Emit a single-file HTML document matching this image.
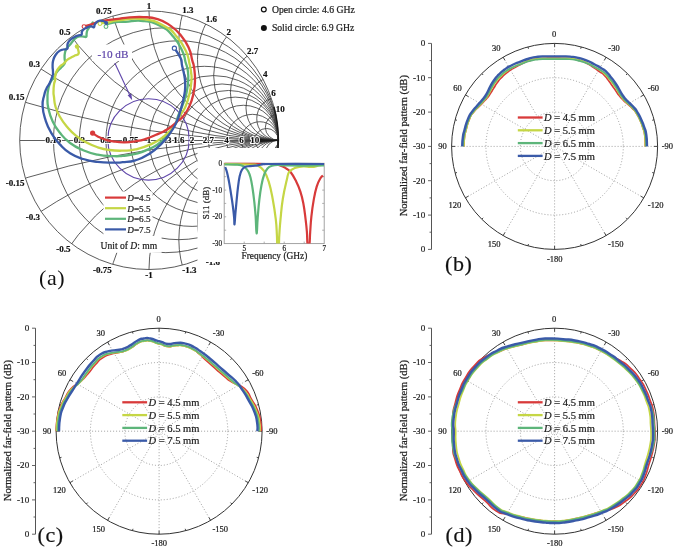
<!DOCTYPE html>
<html><head><meta charset="utf-8"><title>Figure</title>
<style>html,body{margin:0;padding:0;background:#fff;width:675px;height:550px;overflow:hidden}svg{display:block;filter:blur(0.4px)}text{font-family:"Liberation Serif",serif}.k text{stroke:#222;stroke-width:0.22px}</style>
</head><body>
<svg width="675" height="550" viewBox="0 0 675 550"><rect x="-10" y="-10" width="695" height="570" fill="#fff"/><defs><clipPath id="sc"><circle cx="149.00" cy="140.20" r="129.30"/></clipPath></defs>
<g clip-path="url(#sc)" fill="none" stroke="#353535" stroke-width="0.8">
<circle cx="165.87" cy="140.20" r="112.43"/>
<circle cx="178.84" cy="140.20" r="99.46"/>
<circle cx="192.10" cy="140.20" r="86.20"/>
<circle cx="204.41" cy="140.20" r="73.89"/>
<circle cx="213.65" cy="140.20" r="64.65"/>
<circle cx="222.08" cy="140.20" r="56.22"/>
<circle cx="228.57" cy="140.20" r="49.73"/>
<circle cx="235.20" cy="140.20" r="43.10"/>
<circle cx="243.35" cy="140.20" r="34.95"/>
<circle cx="252.44" cy="140.20" r="25.86"/>
<circle cx="259.83" cy="140.20" r="18.47"/>
<circle cx="266.55" cy="140.20" r="11.75"/>
<circle cx="278.30" cy="-721.80" r="862.00"/>
<circle cx="278.30" cy="1002.20" r="862.00"/>
<circle cx="278.30" cy="-290.80" r="431.00"/>
<circle cx="278.30" cy="571.20" r="431.00"/>
<circle cx="278.30" cy="-118.40" r="258.60"/>
<circle cx="278.30" cy="398.80" r="258.60"/>
<circle cx="278.30" cy="-32.20" r="172.40"/>
<circle cx="278.30" cy="312.60" r="172.40"/>
<circle cx="278.30" cy="10.90" r="129.30"/>
<circle cx="278.30" cy="269.50" r="129.30"/>
<circle cx="278.30" cy="40.74" r="99.46"/>
<circle cx="278.30" cy="239.66" r="99.46"/>
<circle cx="278.30" cy="59.39" r="80.81"/>
<circle cx="278.30" cy="221.01" r="80.81"/>
<circle cx="278.30" cy="75.55" r="64.65"/>
<circle cx="278.30" cy="204.85" r="64.65"/>
<circle cx="278.30" cy="92.31" r="47.89"/>
<circle cx="278.30" cy="188.09" r="47.89"/>
<circle cx="278.30" cy="107.87" r="32.33"/>
<circle cx="278.30" cy="172.52" r="32.33"/>
<circle cx="278.30" cy="118.65" r="21.55"/>
<circle cx="278.30" cy="161.75" r="21.55"/>
<circle cx="278.30" cy="127.27" r="12.93"/>
<circle cx="278.30" cy="153.13" r="12.93"/>
<line x1="19.70" y1="140.5" x2="278.30" y2="140.5" stroke-width="0.8"/>
</g>
<circle cx="149.00" cy="140.20" r="129.30" fill="none" stroke="#4a4a4a" stroke-width="0.9"/>
<path d="M273.89,106.73 A129.30,129.30 0 0 1 273.89,173.67" fill="none" stroke="#1a1a1a" stroke-width="1.5"/>
<path d="M259,138.6 L264,139.5 L278.3,140 L278.3,141 L264,141.5 L259,142.4 Z" fill="#1a1a1a"/>
<circle cx="148.5" cy="139.4" r="40.7" fill="none" stroke="#5f46aa" stroke-width="1.15"/>
<g font-family="Liberation Serif" font-weight="bold" font-size="9" text-anchor="middle" fill="#111">
<text x="53.4" y="143.2" fill="#fff" stroke="#fff" stroke-width="2">0.15</text>
<text x="53.4" y="143.2" stroke="#111" stroke-width="0.2">0.15</text>
<text x="79.4" y="143.2" fill="#fff" stroke="#fff" stroke-width="2">0.3</text>
<text x="79.4" y="143.2" stroke="#111" stroke-width="0.2">0.3</text>
<text x="105.9" y="143.2" fill="#fff" stroke="#fff" stroke-width="2">0.5</text>
<text x="105.9" y="143.2" stroke="#111" stroke-width="0.2">0.5</text>
<text x="130.5" y="143.2" fill="#fff" stroke="#fff" stroke-width="2">0.75</text>
<text x="130.5" y="143.2" stroke="#111" stroke-width="0.2">0.75</text>
<text x="149.0" y="143.2" fill="#fff" stroke="#fff" stroke-width="2">1</text>
<text x="149.0" y="143.2" stroke="#111" stroke-width="0.2">1</text>
<text x="165.9" y="143.2" fill="#fff" stroke="#fff" stroke-width="2">1.3</text>
<text x="165.9" y="143.2" stroke="#111" stroke-width="0.2">1.3</text>
<text x="178.8" y="143.2" fill="#fff" stroke="#fff" stroke-width="2">1.6</text>
<text x="178.8" y="143.2" stroke="#111" stroke-width="0.2">1.6</text>
<text x="192.1" y="143.2" fill="#fff" stroke="#fff" stroke-width="2">2</text>
<text x="192.1" y="143.2" stroke="#111" stroke-width="0.2">2</text>
<text x="208.4" y="143.2" fill="#fff" stroke="#fff" stroke-width="2">2.7</text>
<text x="208.4" y="143.2" stroke="#111" stroke-width="0.2">2.7</text>
<text x="226.6" y="143.2" fill="#fff" stroke="#fff" stroke-width="2">4</text>
<text x="226.6" y="143.2" stroke="#111" stroke-width="0.2">4</text>
<text x="241.4" y="143.2" fill="#fff" stroke="#fff" stroke-width="2">6</text>
<text x="241.4" y="143.2" stroke="#111" stroke-width="0.2">6</text>
<text x="254.8" y="143.2" fill="#fff" stroke="#fff" stroke-width="2">10</text>
<text x="254.8" y="143.2" stroke="#111" stroke-width="0.2">10</text>
<text x="24.4" y="100.1" text-anchor="end" stroke="#111" stroke-width="0.2">0.15</text>
<text x="24.4" y="186.3" text-anchor="end" stroke="#111" stroke-width="0.2">-0.15</text>
<text x="40.1" y="66.8" text-anchor="end" stroke="#111" stroke-width="0.2">0.3</text>
<text x="40.1" y="219.6" text-anchor="end" stroke="#111" stroke-width="0.2">-0.3</text>
<text x="70.4" y="34.6" text-anchor="end" stroke="#111" stroke-width="0.2">0.5</text>
<text x="70.4" y="251.8" text-anchor="end" stroke="#111" stroke-width="0.2">-0.5</text>
<text x="111.8" y="13.9" text-anchor="end" stroke="#111" stroke-width="0.2">0.75</text>
<text x="111.8" y="272.5" text-anchor="end" stroke="#111" stroke-width="0.2">-0.75</text>
<text x="149.0" y="8.7" text-anchor="middle" stroke="#111" stroke-width="0.2">1</text>
<text x="149.0" y="277.7" text-anchor="middle" stroke="#111" stroke-width="0.2">-1</text>
<text x="182.2" y="13.0" text-anchor="start" stroke="#111" stroke-width="0.2">1.3</text>
<text x="182.2" y="273.4" text-anchor="start" stroke="#111" stroke-width="0.2">-1.3</text>
<text x="205.7" y="21.8" text-anchor="start" stroke="#111" stroke-width="0.2">1.6</text>
<text x="205.7" y="264.6" text-anchor="start" stroke="#111" stroke-width="0.2">-1.6</text>
<text x="226.6" y="34.6" text-anchor="start" stroke="#111" stroke-width="0.2">2</text>
<text x="226.6" y="251.8" text-anchor="start" stroke="#111" stroke-width="0.2">-2</text>
<text x="247.1" y="53.8" text-anchor="start" stroke="#111" stroke-width="0.2">2.7</text>
<text x="247.1" y="232.6" text-anchor="start" stroke="#111" stroke-width="0.2">-2.7</text>
<text x="263.1" y="77.2" text-anchor="start" stroke="#111" stroke-width="0.2">4</text>
<text x="263.1" y="209.2" text-anchor="start" stroke="#111" stroke-width="0.2">-4</text>
<text x="271.3" y="96.1" text-anchor="start" stroke="#111" stroke-width="0.2">6</text>
<text x="271.3" y="190.3" text-anchor="start" stroke="#111" stroke-width="0.2">-6</text>
<text x="275.7" y="112.4" text-anchor="start" stroke="#111" stroke-width="0.2">10</text>
<text x="275.7" y="174.0" text-anchor="start" stroke="#111" stroke-width="0.2">-10</text>
</g>
<rect x="92" y="44.5" width="40" height="16.5" fill="#fff"/>
<text x="97.6" y="58" font-family="Liberation Serif" font-size="11.2" fill="#5f46aa" stroke="#5f46aa" stroke-width="0.2">-10 dB</text>
<line x1="114.8" y1="63" x2="130.2" y2="96" stroke="#5f46aa" stroke-width="1.1"/>
<path d="M132.2,100.2 L127.6,95.2 L131.3,93.4 Z" fill="#5f46aa"/>
<path d="M105.90,25.40 C106.67,24.92 105.57,24.53 108.80,23.60 C112.03,22.67 113.52,22.35 118.00,21.90 C122.48,21.45 118.85,22.14 125.60,21.90 C132.35,21.66 133.86,19.83 143.30,21.00 C152.74,22.17 152.92,22.03 161.00,26.30 C169.08,30.57 167.89,30.36 173.60,37.00 C179.31,43.64 179.23,44.53 182.40,51.20 C185.57,57.87 184.09,56.99 185.50,62.00 C186.91,67.01 186.98,65.07 187.70,70.00 C188.42,74.93 188.52,74.37 188.20,80.50 C187.88,86.63 187.89,86.73 186.50,93.00 C185.11,99.27 185.13,98.13 183.00,104.00 C180.87,109.87 181.01,108.87 178.50,115.00 C175.99,121.13 178.29,119.85 173.60,127.00 C168.91,134.15 167.67,135.83 160.90,141.80 C154.13,147.77 155.00,146.17 148.20,149.40 C141.40,152.63 142.20,152.19 135.40,153.90 C128.60,155.61 128.89,155.21 122.70,155.80 C116.51,156.39 118.87,156.42 112.20,156.10 C105.53,155.78 105.43,156.17 97.70,154.60 C89.97,153.03 90.56,153.29 83.20,150.20 C75.84,147.11 76.31,147.64 70.10,143.00 C63.89,138.36 64.57,138.61 59.90,132.80 C55.23,126.99 55.69,127.79 52.60,121.20 C49.51,114.61 49.66,114.29 48.30,108.10 C46.94,101.91 47.58,102.61 47.50,98.00 C47.42,93.39 47.44,94.45 48.00,90.80 C48.56,87.15 48.59,87.18 49.60,84.30 C50.61,81.42 50.60,81.73 51.80,80.00 C53.00,78.27 53.01,79.53 54.10,77.80 C55.19,76.07 54.83,75.45 55.90,73.50 C56.97,71.55 56.74,72.07 58.10,70.50 C59.46,68.93 59.45,69.15 61.00,67.60 C62.55,66.05 62.83,66.25 63.90,64.70 C64.97,63.15 64.81,63.53 65.00,61.80 C65.19,60.07 64.60,60.71 64.60,58.20 C64.60,55.69 64.41,55.12 65.00,52.40 C65.59,49.68 65.55,49.95 66.80,48.00 C68.05,46.05 67.86,47.23 69.70,45.10 C71.54,42.97 71.89,42.03 73.70,40.00 C75.51,37.97 74.71,38.46 76.50,37.50 C78.29,36.54 78.43,36.61 80.40,36.40 C82.37,36.19 82.33,36.62 83.90,36.70 C85.47,36.78 85.58,37.50 86.30,36.70 C87.02,35.90 86.28,35.46 86.60,33.70 C86.92,31.94 86.62,31.99 87.50,30.10 C88.38,28.21 88.49,28.65 89.90,26.60 C91.31,24.55 92.03,23.52 92.80,22.40" fill="none" stroke="#5db57a" stroke-width="2.3" stroke-linejoin="round" stroke-linecap="round"/>
<path d="M100.00,23.00 C102.08,22.89 103.00,23.29 107.80,22.60 C112.60,21.91 108.53,21.31 118.00,20.40 C127.47,19.49 130.85,17.63 143.30,19.20 C155.75,20.77 155.71,21.55 164.70,26.30 C173.69,31.05 171.32,30.36 177.00,37.00 C182.68,43.64 182.67,44.08 186.00,51.20 C189.33,58.32 188.17,58.15 189.50,63.70 C190.83,69.25 190.47,67.52 191.00,72.00 C191.53,76.48 191.87,74.85 191.50,80.50 C191.13,86.15 191.12,86.43 189.60,93.20 C188.08,99.97 188.04,100.41 185.80,105.90 C183.56,111.39 184.45,108.31 181.20,113.80 C177.95,119.29 178.35,120.39 173.60,126.50 C168.85,132.61 169.51,131.93 163.40,136.70 C157.29,141.47 158.17,141.01 150.70,144.40 C143.23,147.79 142.87,147.72 135.40,149.40 C127.93,151.08 129.66,150.54 122.70,150.70 C115.74,150.86 115.97,150.91 109.30,150.00 C102.63,149.09 103.89,149.35 97.70,147.30 C91.51,145.25 91.91,145.39 86.10,142.30 C80.29,139.21 80.94,139.78 75.90,135.70 C70.86,131.62 71.47,132.04 67.20,127.00 C62.93,121.96 63.02,122.24 59.90,116.80 C56.78,111.36 57.07,111.88 55.50,106.60 C53.93,101.32 54.53,100.92 54.00,97.00 C53.47,93.08 53.50,95.29 53.50,91.90 C53.50,88.51 53.55,87.47 54.00,84.30 C54.45,81.13 54.88,82.11 55.20,80.00 C55.52,77.89 54.83,78.72 55.20,76.40 C55.57,74.08 55.45,73.83 56.60,71.30 C57.75,68.77 57.74,68.85 59.50,66.90 C61.26,64.95 61.63,65.36 63.20,64.00 C64.77,62.64 64.25,62.97 65.40,61.80 C66.55,60.63 65.77,60.85 67.50,59.60 C69.23,58.35 69.77,58.25 71.90,57.10 C74.03,55.95 73.74,56.18 75.50,55.30 C77.26,54.42 77.81,55.35 78.50,53.80 C79.19,52.25 78.50,51.45 78.10,49.50 C77.70,47.55 77.29,47.30 77.00,46.50" fill="none" stroke="#c5d645" stroke-width="2.3" stroke-linejoin="round" stroke-linecap="round"/>
<path d="M84.00,26.60 C85.07,26.28 85.87,26.04 88.00,25.40 C90.13,24.76 89.87,24.95 92.00,24.20 C94.13,23.45 93.87,23.40 96.00,22.60 C98.13,21.80 97.33,21.79 100.00,21.20 C102.67,20.61 101.20,21.01 106.00,20.40 C110.80,19.79 112.77,19.59 118.00,18.90 C123.23,18.21 118.85,18.28 125.60,17.80 C132.35,17.32 134.77,16.73 143.30,17.10 C151.83,17.47 150.48,16.99 157.60,19.20 C164.72,21.41 163.84,21.13 170.00,25.40 C176.16,29.67 175.71,29.25 180.70,35.20 C185.69,41.15 185.63,41.06 188.70,47.70 C191.77,54.34 190.76,54.77 192.20,60.10 C193.64,65.43 193.35,62.26 194.10,67.70 C194.85,73.14 195.16,73.70 195.00,80.50 C194.84,87.30 194.94,86.43 193.50,93.20 C192.06,99.97 192.32,99.79 189.60,105.90 C186.88,112.01 186.21,112.29 183.30,116.10 C180.39,119.91 182.01,117.35 178.70,120.20 C175.39,123.05 174.93,123.81 170.90,126.80 C166.87,129.79 167.71,129.21 163.60,131.40 C159.49,133.59 160.25,133.00 155.50,135.00 C150.75,137.00 151.00,137.25 145.80,138.90 C140.60,140.55 141.68,140.29 136.00,141.20 C130.32,142.11 130.61,142.25 124.50,142.30 C118.39,142.35 118.30,142.15 113.10,141.40 C107.90,140.65 109.11,140.83 105.00,139.50 C100.89,138.17 101.01,138.11 97.70,136.40 C94.39,134.69 93.96,133.98 92.60,133.10" fill="none" stroke="#d83a3a" stroke-width="2.3" stroke-linejoin="round" stroke-linecap="round"/>
<circle cx="84.0" cy="26.6" r="1.9" fill="#fff" stroke="#d83a3a" stroke-width="1.1"/>
<circle cx="92.6" cy="133.1" r="2.6" fill="#d83a3a"/>
<circle cx="100.0" cy="23.6" r="1.9" fill="#fff" stroke="#c5d645" stroke-width="1.1"/>
<circle cx="77.0" cy="46.5" r="2.2" fill="#c5d645"/>
<circle cx="106.0" cy="26.6" r="1.9" fill="#fff" stroke="#5db57a" stroke-width="1.1"/>
<path d="M174.40,48.20 C176.08,50.89 178.67,53.77 180.70,58.30 C182.73,62.83 180.99,60.32 182.00,65.20 C183.01,70.08 183.65,70.84 184.50,76.60 C185.35,82.36 185.36,81.36 185.20,86.80 C185.04,92.24 185.10,90.89 183.90,97.00 C182.70,103.11 182.57,103.25 180.70,109.70 C178.83,116.15 179.46,115.36 176.90,121.20 C174.34,127.04 175.37,125.41 171.10,131.60 C166.83,137.79 167.01,138.29 160.90,144.40 C154.79,150.51 155.00,150.26 148.20,154.50 C141.40,158.74 142.20,158.25 135.40,160.30 C128.60,162.35 128.49,161.59 122.70,162.20 C116.91,162.81 120.37,162.68 113.70,162.60 C107.03,162.52 105.83,162.86 97.70,161.90 C89.57,160.94 90.56,161.32 83.20,159.00 C75.84,156.68 76.31,157.09 70.10,153.20 C63.89,149.31 64.94,149.84 59.90,144.40 C54.86,138.96 55.07,139.39 51.20,132.80 C47.33,126.21 47.69,126.85 45.40,119.70 C43.11,112.55 42.92,112.53 42.60,106.00 C42.28,99.47 43.19,99.84 44.20,95.20 C45.21,90.56 44.96,91.80 46.40,88.60 C47.84,85.40 48.03,86.45 49.60,83.20 C51.17,79.95 51.39,79.20 52.30,76.40 C53.21,73.60 52.92,75.61 53.00,72.70 C53.08,69.79 52.49,68.99 52.60,65.50 C52.71,62.01 52.52,62.53 53.40,59.60 C54.28,56.67 54.27,56.82 55.90,54.50 C57.53,52.18 57.55,52.23 59.50,50.90 C61.45,49.57 61.12,50.09 63.20,49.50 C65.28,48.91 66.18,49.90 67.30,48.70 C68.42,47.50 67.08,46.79 67.40,45.00 C67.72,43.21 67.51,43.57 68.50,42.00 C69.49,40.43 69.42,40.46 71.10,39.10 C72.78,37.74 72.83,37.89 74.80,36.90 C76.77,35.91 76.71,36.01 78.50,35.40 C80.29,34.79 80.59,35.59 81.50,34.60 C82.41,33.61 81.31,33.09 81.90,31.70 C82.49,30.31 82.42,30.49 83.70,29.40 C84.98,28.31 85.02,28.40 86.70,27.60 C88.38,26.80 88.53,26.67 90.00,26.40 C91.47,26.13 91.13,26.39 92.20,26.60 C93.27,26.81 93.28,27.84 94.00,27.20 C94.72,26.56 94.10,25.61 94.90,24.20 C95.70,22.79 95.67,22.83 97.00,21.90 C98.33,20.97 98.33,20.94 99.90,20.70 C101.47,20.46 101.30,20.55 102.90,21.00 C104.50,21.45 105.10,22.03 105.90,22.40" fill="none" stroke="#3a5aa8" stroke-width="2.3" stroke-linejoin="round" stroke-linecap="round"/>
<circle cx="174.4" cy="48.2" r="2.1" fill="#fff" stroke="#3a5aa8" stroke-width="1.1"/>
<circle cx="106.2" cy="23.0" r="2.0" fill="#3a5aa8"/>
<rect x="103.5" y="191.5" width="49" height="50" fill="#fff"/>
<rect x="99" y="235.8" width="62.6" height="17" fill="#fff"/>
<g class="k" font-family="Liberation Serif" font-size="9.2" fill="#222">
<line x1="105" y1="197.6" x2="126" y2="197.6" stroke="#d83a3a" stroke-width="2.2"/>
<text x="127.3" y="201.2"><tspan font-style="italic">D</tspan>=4.5</text>
<line x1="105" y1="208.2" x2="126" y2="208.2" stroke="#c5d645" stroke-width="2.2"/>
<text x="127.3" y="211.8"><tspan font-style="italic">D</tspan>=5.5</text>
<line x1="105" y1="218.8" x2="126" y2="218.8" stroke="#5db57a" stroke-width="2.2"/>
<text x="127.3" y="222.4"><tspan font-style="italic">D</tspan>=6.5</text>
<line x1="105" y1="229.4" x2="126" y2="229.4" stroke="#3a5aa8" stroke-width="2.2"/>
<text x="127.3" y="233.0"><tspan font-style="italic">D</tspan>=7.5</text>
<text x="100.5" y="248.5" font-size="9.6">Unit of <tspan font-style="italic">D</tspan>: mm</text>
</g>
<circle cx="263.8" cy="9.5" r="2.4" fill="#fff" stroke="#111" stroke-width="1.2"/>
<circle cx="263.9" cy="28" r="3" fill="#111"/>
<g class="k" font-family="Liberation Serif" font-size="9.7" fill="#222">
<text x="271.9" y="12.6">Open circle: 4.6 GHz</text>
<text x="271.9" y="31">Solid circle: 6.9 GHz</text>
</g>
<rect x="197.5" y="148" width="141" height="114" fill="#fff"/>
<defs><clipPath id="ins"><rect x="224.2" y="161.3" width="100.0" height="82.3"/></clipPath></defs>
<rect x="224.2" y="163.3" width="100.0" height="80.3" fill="none" stroke="#999" stroke-width="0.9"/>
<path d="M244.2,243.6 v-2 M244.2,163.3 v2 M264.2,243.6 v-2 M264.2,163.3 v2 M284.2,243.6 v-2 M284.2,163.3 v2 M304.2,243.6 v-2 M304.2,163.3 v2 M224.2,176.7 h2 M324.2,176.7 h-2 M224.2,190.1 h2 M324.2,190.1 h-2 M224.2,203.4 h2 M324.2,203.4 h-2 M224.2,216.8 h2 M324.2,216.8 h-2 M224.2,230.2 h2 M324.2,230.2 h-2" stroke="#999" stroke-width="0.8" fill="none"/>
<g clip-path="url(#ins)" fill="none" stroke-width="2.2" stroke-linejoin="round">
<path d="M224.50,163.80 C235.12,163.85 257.05,163.60 270.00,164.00 C282.95,164.40 276.20,164.43 280.00,165.50 C283.80,166.57 283.76,166.97 286.30,168.60 C288.84,170.23 288.73,169.77 290.90,172.50 C293.07,175.23 293.41,175.91 295.60,180.30 C297.79,184.69 298.48,185.82 300.30,191.30 C302.12,196.78 302.16,197.24 303.40,203.80 C304.64,210.36 304.78,212.84 305.60,219.40 C306.42,225.96 306.43,226.04 306.90,231.90 C307.37,237.76 307.02,241.56 307.60,244.50 C308.18,247.44 308.79,247.44 309.40,244.50 C310.01,241.56 309.73,238.48 310.20,231.90 C310.67,225.32 310.61,223.60 311.40,216.30 C312.19,209.00 312.36,207.53 313.60,200.60 C314.84,193.67 315.07,191.87 316.70,186.60 C318.33,181.33 319.13,180.57 320.60,178.00 C322.07,175.43 322.44,176.16 323.00,175.60" stroke="#d83a3a"/>
<path d="M224.50,164.00 C230.45,164.12 242.23,164.15 250.00,164.50 C257.77,164.85 254.53,164.01 257.80,165.50 C261.07,166.99 261.43,167.07 264.00,170.90 C266.57,174.73 266.77,175.34 268.80,181.90 C270.83,188.46 271.07,190.25 272.70,199.00 C274.33,207.75 274.82,211.00 275.80,219.40 C276.78,227.80 276.55,229.14 276.90,235.00 C277.25,240.86 276.86,242.28 277.30,244.50 C277.74,246.72 278.33,246.72 278.80,244.50 C279.27,242.28 278.90,240.86 279.30,235.00 C279.70,229.14 279.68,227.80 280.50,219.40 C281.32,211.00 281.35,208.12 282.80,199.00 C284.25,189.88 285.16,186.67 286.70,180.30 C288.24,173.93 287.32,174.62 289.40,171.70 C291.48,168.78 292.33,169.06 295.60,167.80 C298.87,166.54 299.74,166.49 303.40,166.30 C307.06,166.11 307.66,167.19 311.30,167.00 C314.94,166.81 316.15,166.08 319.00,165.50 C321.85,164.92 322.45,164.73 323.50,164.50" stroke="#c5d645"/>
<path d="M224.50,164.50 C226.95,164.52 231.15,164.44 235.00,164.60 C238.85,164.76 238.67,164.52 241.00,165.20 C243.33,165.88 243.37,166.15 245.00,167.50 C246.63,168.85 246.72,168.67 248.00,171.00 C249.28,173.33 249.45,173.53 250.50,177.50 C251.55,181.47 251.64,182.52 252.50,188.00 C253.36,193.48 253.48,194.47 254.20,201.00 C254.92,207.53 255.04,208.44 255.60,216.00 C256.16,223.56 256.11,232.93 256.60,233.40 C257.09,233.87 257.07,225.79 257.70,218.00 C258.33,210.21 258.41,207.70 259.30,200.00 C260.19,192.30 260.36,190.95 261.50,185.00 C262.64,179.05 262.80,178.35 264.20,174.50 C265.60,170.65 265.68,170.53 267.50,168.50 C269.32,166.47 269.32,166.62 272.00,165.80 C274.68,164.98 275.03,165.07 279.00,165.00 C282.97,164.93 278.50,165.38 289.00,165.50 C299.50,165.62 315.83,165.50 324.00,165.50" stroke="#5db57a"/>
<path d="M225.20,167.00 C225.64,168.33 226.21,169.29 227.10,172.70 C227.99,176.11 228.11,176.84 229.00,181.60 C229.89,186.36 230.01,187.45 230.90,193.10 C231.79,198.75 232.05,200.15 232.80,205.80 C233.55,211.45 233.70,212.98 234.10,217.30 C234.50,221.62 234.20,225.19 234.50,224.30 C234.80,223.41 234.91,219.01 235.40,213.50 C235.89,207.99 236.02,206.65 236.60,200.70 C237.18,194.75 237.20,193.65 237.90,188.00 C238.60,182.35 238.71,180.65 239.60,176.50 C240.49,172.35 240.46,172.42 241.70,170.20 C242.94,167.98 242.96,167.96 244.90,167.00 C246.84,166.04 247.62,166.40 250.00,166.10 C252.38,165.80 253.02,165.93 255.10,165.70 C257.18,165.47 257.29,165.38 258.90,165.10 C260.51,164.82 259.41,164.76 262.00,164.50 C264.59,164.24 255.53,164.12 270.00,164.00 C284.47,163.88 311.40,164.00 324.00,164.00" stroke="#3a5aa8"/>
</g>
<g class="k" font-family="Liberation Serif" font-size="7.2" fill="#222" text-anchor="end">
<text x="222.0" y="165.8">0</text>
<text x="222.0" y="192.6">-10</text>
<text x="222.0" y="219.3">-20</text>
<text x="222.0" y="246.1">-30</text>
</g>
<g class="k" font-family="Liberation Serif" font-size="7.2" fill="#222" text-anchor="middle">
<text x="244.2" y="250.8">5</text>
<text x="284.2" y="250.8">6</text>
<text x="324.2" y="250.8">7</text>
</g>
<text x="274.4" y="258.8" font-family="Liberation Serif" font-size="9.4" fill="#222" stroke="#222" stroke-width="0.22" text-anchor="middle">Frequency (GHz)</text>
<text transform="translate(208.6,203) rotate(-90)" font-family="Liberation Serif" font-size="9" fill="#222" stroke="#222" stroke-width="0.22" text-anchor="middle">S11 (dB)</text>
<text x="39" y="284.5" font-family="Liberation Serif" font-size="22" letter-spacing="0.6" fill="#111">(a)</text>
<g class="k" font-family="Liberation Serif" fill="#222"><line x1="431.5" y1="43.4" x2="431.5" y2="249.4" stroke="#555" stroke-width="1"/><path d="M431.5,43.4 h-3.5 M431.5,60.6 h-2.0 M431.5,77.7 h-3.5 M431.5,94.9 h-2.0 M431.5,112.1 h-3.5 M431.5,129.2 h-2.0 M431.5,146.4 h-3.5 M431.5,163.6 h-2.0 M431.5,180.7 h-3.5 M431.5,197.9 h-2.0 M431.5,215.1 h-3.5 M431.5,232.2 h-2.0 M431.5,249.4 h-3.5" stroke="#555" stroke-width="0.9" fill="none"/><text x="425.2" y="46.3" text-anchor="end" font-size="9.1">0</text><text x="425.2" y="80.6" text-anchor="end" font-size="9.1">-10</text><text x="425.2" y="115.0" text-anchor="end" font-size="9.1">-20</text><text x="425.2" y="149.3" text-anchor="end" font-size="9.1">-30</text><text x="425.2" y="183.6" text-anchor="end" font-size="9.1">-20</text><text x="425.2" y="218.0" text-anchor="end" font-size="9.1">-10</text><text x="425.2" y="252.3" text-anchor="end" font-size="9.1">0</text><text transform="translate(406.9,145.7) rotate(-90)" text-anchor="middle" font-size="10.6">Normalized far-field pattern (dB)</text><circle cx="554.6" cy="146.4" r="34.3" fill="none" stroke="#888" stroke-width="0.8" stroke-dasharray="1 2"/><circle cx="554.6" cy="146.4" r="68.7" fill="none" stroke="#888" stroke-width="0.8" stroke-dasharray="1 2"/><path d="M554.6,146.4 L554.6,43.4 M554.6,146.4 L503.1,57.2 M554.6,146.4 L465.4,94.9 M554.6,146.4 L451.6,146.4 M554.6,146.4 L465.4,197.9 M554.6,146.4 L503.1,235.6 M554.6,146.4 L554.6,249.4 M554.6,146.4 L606.1,235.6 M554.6,146.4 L643.8,197.9 M554.6,146.4 L657.6,146.4 M554.6,146.4 L643.8,94.9 M554.6,146.4 L606.1,57.2" stroke="#888" stroke-width="0.8" stroke-dasharray="1 2" fill="none"/><circle cx="554.6" cy="146.4" r="103.0" fill="none" stroke="#333" stroke-width="1"/><path d="M554.6,43.4 L554.6,46.9 M527.9,46.9 L528.5,48.8 M503.1,57.2 L504.9,60.2 M481.8,73.6 L483.2,75.0 M465.4,94.9 L468.4,96.6 M455.1,119.7 L457.0,120.3 M451.6,146.4 L455.1,146.4 M455.1,173.1 L457.0,172.5 M465.4,197.9 L468.4,196.1 M481.8,219.2 L483.2,217.8 M503.1,235.6 L504.9,232.6 M527.9,245.9 L528.5,244.0 M554.6,249.4 L554.6,245.9 M581.3,245.9 L580.7,244.0 M606.1,235.6 L604.4,232.6 M627.4,219.2 L626.0,217.8 M643.8,197.9 L640.8,196.2 M654.1,173.1 L652.2,172.5 M657.6,146.4 L654.1,146.4 M654.1,119.7 L652.2,120.3 M643.8,94.9 L640.8,96.6 M627.4,73.6 L626.0,75.0 M606.1,57.2 L604.4,60.2 M581.3,46.9 L580.7,48.8" stroke="#333" stroke-width="0.9" fill="none"/><text x="554.0" y="37.3" text-anchor="middle" font-size="8.5">0</text><text x="496.2" y="51.2" text-anchor="middle" font-size="8.5">30</text><text x="614.0" y="51.3" text-anchor="middle" font-size="8.5">-30</text><text x="457.5" y="90.7" text-anchor="middle" font-size="8.5">60</text><text x="653.3" y="90.8" text-anchor="middle" font-size="8.5">-60</text><text x="442.4" y="149.3" text-anchor="middle" font-size="8.5">90</text><text x="667.3" y="149.3" text-anchor="middle" font-size="8.5">-90</text><text x="454.9" y="208.2" text-anchor="middle" font-size="8.5">120</text><text x="655.6" y="208.0" text-anchor="middle" font-size="8.5">-120</text><text x="494.0" y="247.2" text-anchor="middle" font-size="8.5">150</text><text x="615.7" y="247.4" text-anchor="middle" font-size="8.5">-150</text><text x="554.7" y="261.6" text-anchor="middle" font-size="8.5">-180</text><path d="M463.90,146.40 C464.06,143.65 463.70,143.52 464.39,138.15 C465.08,132.77 464.27,136.71 465.97,130.27 C467.67,123.82 466.81,124.99 469.48,118.81 C472.14,112.63 470.90,115.70 473.95,111.73 C477.01,107.75 475.52,110.10 478.63,106.90 C481.74,103.70 480.45,105.07 483.28,102.13 C486.10,99.18 484.73,100.91 487.09,98.07 C489.45,95.23 488.19,96.84 490.35,93.60 C492.52,90.36 491.31,91.92 493.58,88.34 C495.85,84.76 494.64,86.35 497.16,82.86 C499.69,79.37 498.01,81.20 501.17,77.86 C504.32,74.53 502.54,76.02 506.62,72.85 C510.71,69.69 508.47,71.32 513.42,68.37 C518.37,65.42 515.97,66.59 521.46,64.00 C526.96,61.41 524.27,62.34 529.90,60.60 C535.54,58.86 532.94,59.56 538.37,58.78 C543.79,58.00 540.77,58.48 546.18,58.26 C551.59,58.03 549.38,58.11 554.60,58.10 C559.82,58.09 556.83,58.08 561.85,58.23 C566.87,58.39 564.24,57.95 569.66,58.56 C575.09,59.18 572.48,58.54 578.13,60.08 C583.78,61.62 581.57,60.76 586.62,63.19 C591.67,65.63 589.05,64.62 593.29,67.39 C597.53,70.15 595.72,68.94 599.34,71.48 C602.96,74.03 601.22,72.17 604.16,75.03 C607.10,77.88 605.47,76.48 608.16,80.04 C610.86,83.61 609.65,82.06 612.23,85.72 C614.82,89.37 613.62,87.73 615.93,91.00 C618.23,94.27 616.72,92.50 619.15,95.53 C621.58,98.56 620.36,97.22 623.22,100.11 C626.07,102.99 624.68,101.45 627.72,104.18 C630.77,106.92 629.53,105.34 632.36,108.30 C635.19,111.26 633.67,109.10 636.22,113.06 C638.77,117.03 637.82,115.42 640.00,120.20 C642.19,124.98 641.19,122.41 642.78,127.41 C644.36,132.40 643.91,128.86 644.75,135.19 C645.60,141.52 645.12,142.66 645.30,146.40" fill="none" stroke="#d83a3a" stroke-width="1.7" stroke-linejoin="round"/><path d="M463.90,146.40 C464.06,143.65 463.70,143.52 464.39,138.15 C465.08,132.77 464.27,136.71 465.97,130.27 C467.67,123.82 466.86,125.01 469.48,118.81 C472.09,112.61 470.87,115.69 473.81,111.67 C476.76,107.64 475.32,110.01 478.32,106.74 C481.32,103.46 480.09,104.87 482.81,101.84 C485.52,98.80 484.27,100.63 486.46,97.62 C488.66,94.61 487.45,96.31 489.40,92.82 C491.36,89.33 490.12,90.89 492.32,87.15 C494.53,83.40 493.37,85.06 496.02,81.59 C498.67,78.12 496.99,80.01 500.29,76.74 C503.59,73.46 501.72,74.91 505.92,71.78 C510.12,68.65 507.77,70.12 512.88,67.35 C517.99,64.58 515.60,65.80 521.25,63.46 C526.89,61.12 524.13,61.92 529.83,60.33 C535.53,58.73 532.89,59.35 538.35,58.67 C543.80,57.99 540.76,58.41 546.18,58.29 C551.60,58.17 549.38,58.30 554.60,58.30 C559.82,58.30 556.82,58.24 561.84,58.29 C566.87,58.35 564.23,57.96 569.68,58.47 C575.13,58.99 572.49,58.42 578.20,59.83 C583.91,61.25 581.62,60.50 586.80,62.73 C591.97,64.95 589.31,63.96 593.72,66.50 C598.13,69.03 596.31,67.82 600.03,70.33 C603.74,72.83 601.84,71.16 604.87,74.01 C607.89,76.86 606.23,75.41 609.10,78.88 C611.97,82.35 610.82,80.72 613.48,84.41 C616.13,88.11 614.90,86.48 617.08,89.96 C619.26,93.45 617.78,91.60 620.01,94.86 C622.23,98.12 621.05,96.71 623.76,99.74 C626.47,102.77 625.18,101.14 628.13,103.95 C631.08,106.76 629.88,105.15 632.61,108.18 C635.34,111.20 633.85,109.02 636.31,113.03 C638.78,117.03 637.85,115.40 640.00,120.20 C642.15,124.99 641.19,122.41 642.78,127.41 C644.36,132.40 643.91,128.86 644.75,135.19 C645.60,141.52 645.12,142.66 645.30,146.40" fill="none" stroke="#c5d645" stroke-width="1.7" stroke-linejoin="round"/><path d="M463.10,146.40 C463.30,143.63 462.93,143.49 463.70,138.08 C464.46,132.67 463.60,136.63 465.39,130.16 C467.17,123.69 466.38,124.90 469.06,118.68 C471.74,112.46 470.47,115.55 473.43,111.50 C476.38,107.45 474.93,109.84 477.92,106.53 C480.91,103.22 479.69,104.65 482.40,101.58 C485.11,98.51 483.86,100.36 486.05,97.33 C488.25,94.29 487.03,96.00 488.98,92.47 C490.93,88.95 489.70,90.52 491.90,86.74 C494.11,82.96 492.94,84.64 495.60,81.13 C498.26,77.61 496.53,79.47 499.88,76.21 C503.22,72.95 501.30,74.30 505.63,71.34 C509.96,68.38 507.60,69.79 512.87,67.32 C518.14,64.86 515.72,66.04 521.44,63.94 C527.16,61.85 524.35,62.53 530.03,61.04 C535.71,59.54 533.08,60.08 538.49,59.45 C543.90,58.82 540.89,59.22 546.26,59.13 C551.63,59.05 549.43,59.20 554.60,59.20 C559.77,59.20 556.79,59.12 561.77,59.14 C566.76,59.17 564.13,58.79 569.54,59.26 C574.95,59.73 572.32,59.21 578.00,60.55 C583.68,61.90 581.36,61.27 586.58,63.29 C591.80,65.31 589.13,64.36 593.66,66.62 C598.20,68.87 596.33,67.78 600.19,70.06 C604.05,72.34 602.14,70.68 605.25,73.45 C608.36,76.22 606.64,74.86 609.52,78.36 C612.40,81.87 611.24,80.23 613.90,83.96 C616.56,87.70 615.33,86.06 617.50,89.58 C619.68,93.10 618.20,91.23 620.42,94.53 C622.65,97.82 621.46,96.40 624.17,99.46 C626.87,102.53 625.58,100.88 628.53,103.72 C631.48,106.56 630.29,104.93 633.01,107.99 C635.73,111.04 634.22,108.84 636.70,112.87 C639.18,116.89 638.23,115.26 640.44,120.06 C642.65,124.87 641.66,122.27 643.32,127.29 C644.98,132.31 644.48,128.74 645.41,135.11 C646.33,141.48 645.87,142.64 646.10,146.40" fill="none" stroke="#5db57a" stroke-width="1.7" stroke-linejoin="round"/><path d="M462.20,146.40 C462.40,143.60 462.03,143.47 462.80,138.00 C463.57,132.53 462.70,136.53 464.50,130.00 C466.30,123.47 465.53,124.70 468.20,118.40 C470.87,112.10 469.60,115.23 472.50,111.10 C475.40,106.97 473.97,109.40 476.90,106.00 C479.83,102.60 478.63,104.07 481.30,100.90 C483.97,97.73 482.73,99.63 484.90,96.50 C487.07,93.37 485.87,95.13 487.80,91.50 C489.73,87.87 488.50,89.50 490.70,85.60 C492.90,81.70 491.73,83.43 494.40,79.80 C497.07,76.17 495.33,78.10 498.70,74.70 C502.07,71.30 500.13,72.73 504.50,69.60 C508.87,66.47 506.47,67.97 511.80,65.30 C517.13,62.63 514.67,63.87 520.50,61.60 C526.33,59.33 523.47,60.10 529.30,58.50 C535.13,56.90 532.43,57.50 538.00,56.80 C543.57,56.10 540.47,56.53 546.00,56.40 C551.53,56.27 549.27,56.40 554.60,56.40 C559.93,56.40 556.87,56.33 562.00,56.40 C567.13,56.47 564.43,56.07 570.00,56.60 C575.57,57.13 572.87,56.57 578.70,58.00 C584.53,59.43 582.17,58.73 587.50,60.90 C592.83,63.07 590.10,62.07 594.70,64.50 C599.30,66.93 597.40,65.77 601.30,68.20 C605.20,70.63 603.27,68.90 606.40,71.80 C609.53,74.70 607.80,73.27 610.70,76.90 C613.60,80.53 612.43,78.83 615.10,82.70 C617.77,86.57 616.53,84.87 618.70,88.50 C620.87,92.13 619.40,90.20 621.60,93.60 C623.80,97.00 622.63,95.53 625.30,98.70 C627.97,101.87 626.70,100.17 629.60,103.10 C632.50,106.03 631.33,104.37 634.00,107.50 C636.67,110.63 635.17,108.40 637.60,112.50 C640.03,116.60 639.10,114.93 641.30,119.80 C643.50,124.67 642.53,122.03 644.20,127.10 C645.87,132.17 645.37,128.57 646.30,135.00 C647.23,141.43 646.77,142.60 647.00,146.40" fill="none" stroke="#3a5aa8" stroke-width="2.4" stroke-linejoin="round"/><line x1="517.8" y1="117.5" x2="542.6" y2="117.5" stroke="#d83a3a" stroke-width="2.3"/><text x="544.1" y="121.1" font-size="10.5"><tspan font-style="italic">D</tspan> = 4.5 mm</text><line x1="517.8" y1="130.3" x2="542.6" y2="130.3" stroke="#c5d645" stroke-width="2.3"/><text x="544.1" y="133.9" font-size="10.5"><tspan font-style="italic">D</tspan> = 5.5 mm</text><line x1="517.8" y1="143.1" x2="542.6" y2="143.1" stroke="#5db57a" stroke-width="2.3"/><text x="544.1" y="146.7" font-size="10.5"><tspan font-style="italic">D</tspan> = 6.5 mm</text><line x1="517.8" y1="155.9" x2="542.6" y2="155.9" stroke="#3a5aa8" stroke-width="2.3"/><text x="544.1" y="159.5" font-size="10.5"><tspan font-style="italic">D</tspan> = 7.5 mm</text><text x="445.0" y="271.4" font-size="22" letter-spacing="0.6" fill="#111">(b)</text></g>
<g class="k" font-family="Liberation Serif" fill="#222"><line x1="35.5" y1="328.2" x2="35.5" y2="534.2" stroke="#555" stroke-width="1"/><path d="M35.5,328.2 h-3.5 M35.5,345.4 h-2.0 M35.5,362.5 h-3.5 M35.5,379.7 h-2.0 M35.5,396.9 h-3.5 M35.5,414.0 h-2.0 M35.5,431.2 h-3.5 M35.5,448.4 h-2.0 M35.5,465.5 h-3.5 M35.5,482.7 h-2.0 M35.5,499.9 h-3.5 M35.5,517.0 h-2.0 M35.5,534.2 h-3.5" stroke="#555" stroke-width="0.9" fill="none"/><text x="29.2" y="331.1" text-anchor="end" font-size="9.1">0</text><text x="29.2" y="365.4" text-anchor="end" font-size="9.1">-10</text><text x="29.2" y="399.8" text-anchor="end" font-size="9.1">-20</text><text x="29.2" y="434.1" text-anchor="end" font-size="9.1">-30</text><text x="29.2" y="468.4" text-anchor="end" font-size="9.1">-20</text><text x="29.2" y="502.8" text-anchor="end" font-size="9.1">-10</text><text x="29.2" y="537.1" text-anchor="end" font-size="9.1">0</text><text transform="translate(10.9,430.5) rotate(-90)" text-anchor="middle" font-size="10.6">Normalized far-field pattern (dB)</text><circle cx="159.1" cy="431.2" r="34.3" fill="none" stroke="#888" stroke-width="0.8" stroke-dasharray="1 2"/><circle cx="159.1" cy="431.2" r="68.7" fill="none" stroke="#888" stroke-width="0.8" stroke-dasharray="1 2"/><path d="M159.1,431.2 L159.1,328.2 M159.1,431.2 L107.6,342.0 M159.1,431.2 L69.9,379.7 M159.1,431.2 L56.1,431.2 M159.1,431.2 L69.9,482.7 M159.1,431.2 L107.6,520.4 M159.1,431.2 L159.1,534.2 M159.1,431.2 L210.6,520.4 M159.1,431.2 L248.3,482.7 M159.1,431.2 L262.1,431.2 M159.1,431.2 L248.3,379.7 M159.1,431.2 L210.6,342.0" stroke="#888" stroke-width="0.8" stroke-dasharray="1 2" fill="none"/><circle cx="159.1" cy="431.2" r="103.0" fill="none" stroke="#333" stroke-width="1"/><path d="M159.1,328.2 L159.1,331.7 M132.4,331.7 L133.0,333.6 M107.6,342.0 L109.3,345.0 M86.3,358.4 L87.7,359.8 M69.9,379.7 L72.9,381.4 M59.6,404.5 L61.5,405.1 M56.1,431.2 L59.6,431.2 M59.6,457.9 L61.5,457.3 M69.9,482.7 L72.9,480.9 M86.3,504.0 L87.7,502.6 M107.6,520.4 L109.3,517.4 M132.4,530.7 L133.0,528.8 M159.1,534.2 L159.1,530.7 M185.8,530.7 L185.2,528.8 M210.6,520.4 L208.9,517.4 M231.9,504.0 L230.5,502.6 M248.3,482.7 L245.3,481.0 M258.6,457.9 L256.7,457.3 M262.1,431.2 L258.6,431.2 M258.6,404.5 L256.7,405.1 M248.3,379.7 L245.3,381.4 M231.9,358.4 L230.5,359.8 M210.6,342.0 L208.9,345.0 M185.8,331.7 L185.2,333.6" stroke="#333" stroke-width="0.9" fill="none"/><text x="158.5" y="322.1" text-anchor="middle" font-size="8.5">0</text><text x="100.7" y="336.0" text-anchor="middle" font-size="8.5">30</text><text x="218.5" y="336.1" text-anchor="middle" font-size="8.5">-30</text><text x="62.0" y="375.5" text-anchor="middle" font-size="8.5">60</text><text x="257.8" y="375.6" text-anchor="middle" font-size="8.5">-60</text><text x="46.9" y="434.1" text-anchor="middle" font-size="8.5">90</text><text x="271.8" y="434.1" text-anchor="middle" font-size="8.5">-90</text><text x="59.4" y="493.0" text-anchor="middle" font-size="8.5">120</text><text x="260.1" y="492.8" text-anchor="middle" font-size="8.5">-120</text><text x="98.5" y="532.0" text-anchor="middle" font-size="8.5">150</text><text x="220.2" y="532.2" text-anchor="middle" font-size="8.5">-150</text><text x="159.2" y="546.4" text-anchor="middle" font-size="8.5">-180</text><path d="M56.20,431.20 C56.57,426.75 55.87,426.03 57.32,417.85 C58.78,409.67 57.92,413.39 60.56,406.67 C63.21,399.95 61.77,403.63 65.25,397.70 C68.73,391.77 66.10,394.10 71.00,388.89 C75.90,383.68 74.29,387.09 79.96,382.07 C85.63,377.04 82.91,379.61 88.01,373.81 C93.12,368.02 90.39,370.03 95.27,364.69 C100.14,359.34 97.46,361.26 102.64,357.77 C107.81,354.28 105.38,355.98 110.80,354.22 C116.21,352.46 114.09,353.68 118.88,352.50 C123.67,351.33 120.97,352.38 125.17,350.70 C129.37,349.03 127.24,350.00 131.48,347.47 C135.72,344.95 133.64,345.30 137.89,343.13 C142.13,340.96 139.96,341.68 144.21,340.97 C148.46,340.25 146.38,340.24 150.63,340.99 C154.88,341.73 153.36,342.10 156.96,343.20 C160.56,344.30 157.81,343.20 161.43,344.30 C165.06,345.39 162.88,346.14 167.84,346.49 C172.80,346.84 170.66,345.52 176.31,345.35 C181.95,345.19 179.10,344.58 184.78,345.99 C190.45,347.41 188.44,346.88 193.33,349.61 C198.23,352.33 194.81,350.22 199.46,354.17 C204.10,358.11 201.87,356.58 207.26,361.44 C212.65,366.31 210.05,363.88 215.62,368.77 C221.18,373.65 218.13,371.41 223.95,376.09 C229.77,380.77 226.21,378.62 233.08,382.81 C239.95,387.01 238.33,383.05 244.56,388.68 C250.78,394.31 247.36,392.29 251.74,399.70 C256.13,407.11 254.72,403.37 257.72,410.90 C260.72,418.42 259.59,415.51 260.75,422.28 C261.91,429.05 261.05,428.23 261.20,431.20" fill="none" stroke="#d83a3a" stroke-width="1.7" stroke-linejoin="round"/><path d="M56.40,431.20 C56.82,426.76 56.12,426.03 57.66,417.89 C59.20,409.75 58.35,413.47 61.01,406.78 C63.67,400.09 62.11,403.70 65.64,397.84 C69.18,391.97 66.78,394.40 71.61,389.18 C76.44,383.96 75.01,387.57 80.14,382.18 C85.27,376.78 82.26,379.14 87.00,373.00 C91.75,366.85 89.42,369.17 94.37,363.75 C99.32,358.33 96.52,360.16 101.85,356.74 C107.17,353.32 104.67,354.93 110.34,353.49 C116.00,352.04 113.86,353.27 118.83,352.40 C123.80,351.54 121.01,352.47 125.25,350.89 C129.49,349.31 127.32,350.19 131.55,347.66 C135.77,345.14 133.70,345.49 137.93,343.32 C142.16,341.16 140.00,341.88 144.24,341.16 C148.48,340.45 146.41,340.44 150.65,341.19 C154.89,341.93 153.37,342.30 156.97,343.40 C160.56,344.50 157.81,343.40 161.43,344.50 C165.05,345.59 162.88,346.34 167.82,346.69 C172.77,347.04 170.64,345.71 176.27,345.55 C181.90,345.38 179.06,344.77 184.72,346.19 C190.38,347.60 188.31,347.19 193.26,349.79 C198.20,352.39 194.64,350.45 199.55,353.99 C204.45,357.54 202.32,355.82 207.97,360.42 C213.61,365.03 210.83,362.86 216.49,367.80 C222.15,372.74 219.29,370.32 224.94,375.25 C230.59,380.17 227.36,377.87 233.44,382.58 C239.52,387.28 237.43,383.54 243.18,389.36 C248.93,395.19 246.26,392.79 250.69,400.06 C255.13,407.32 253.54,403.71 256.48,411.15 C259.43,418.59 258.36,415.70 259.53,422.39 C260.70,429.07 259.84,428.26 260.00,431.20" fill="none" stroke="#c5d645" stroke-width="1.7" stroke-linejoin="round"/><path d="M57.40,431.20 C57.80,426.81 57.10,426.08 58.59,418.02 C60.08,409.95 59.26,413.63 61.87,406.99 C64.49,400.36 62.98,403.96 66.44,398.12 C69.89,392.28 67.76,394.85 72.23,389.48 C76.71,384.11 75.08,387.61 79.87,382.01 C84.66,376.41 81.89,378.89 86.61,372.68 C91.33,366.47 89.05,368.83 94.02,363.39 C99.00,357.94 96.19,359.79 101.54,356.34 C106.89,352.90 104.38,354.53 110.07,353.06 C115.76,351.60 113.61,352.84 118.60,351.96 C123.60,351.08 120.79,352.02 125.05,350.43 C129.32,348.84 127.14,349.72 131.39,347.19 C135.64,344.66 133.56,345.01 137.82,342.84 C142.07,340.67 139.89,341.39 144.16,340.67 C148.42,339.95 146.34,339.95 150.61,340.69 C154.87,341.43 153.34,341.80 156.95,342.90 C160.57,344.00 157.80,342.90 161.44,344.00 C165.08,345.10 162.90,345.84 167.87,346.19 C172.85,346.54 170.70,345.22 176.37,345.06 C182.03,344.90 179.17,344.28 184.87,345.71 C190.56,347.13 188.48,346.71 193.45,349.33 C198.42,351.94 194.85,349.99 199.78,353.55 C204.71,357.11 202.57,355.38 208.25,360.01 C213.93,364.64 211.13,362.46 216.82,367.43 C222.51,372.40 219.65,369.97 225.32,374.92 C231.00,379.88 228.08,377.41 233.86,382.30 C239.64,387.20 237.33,383.61 242.67,389.61 C248.02,395.62 245.58,393.09 249.89,400.33 C254.19,407.57 252.70,403.95 255.59,411.33 C258.49,418.71 257.44,415.85 258.57,422.47 C259.71,429.09 258.86,428.29 259.00,431.20" fill="none" stroke="#5db57a" stroke-width="1.7" stroke-linejoin="round"/><path d="M59.00,431.20 C59.33,426.87 58.63,426.17 60.00,418.20 C61.37,410.23 60.60,413.87 63.10,407.30 C65.60,400.73 64.23,404.33 67.50,398.50 C70.77,392.67 69.27,395.60 72.90,389.80 C76.53,384.00 74.40,387.27 78.40,381.10 C82.40,374.93 80.20,377.73 84.90,371.30 C89.60,364.87 87.40,367.37 92.50,361.80 C97.60,356.23 94.73,358.13 100.20,354.60 C105.67,351.07 103.10,352.73 108.90,351.20 C114.70,349.67 112.50,350.93 117.60,350.00 C122.70,349.07 119.83,350.03 124.20,348.40 C128.57,346.77 126.33,347.67 130.70,345.10 C135.07,342.53 132.93,342.90 137.30,340.70 C141.67,338.50 139.43,339.23 143.80,338.50 C148.17,337.77 146.03,337.77 150.40,338.50 C154.77,339.23 153.20,339.60 156.90,340.70 C160.60,341.80 157.77,340.70 161.50,341.80 C165.23,342.90 163.00,343.63 168.10,344.00 C173.20,344.37 171.00,343.03 176.80,342.90 C182.60,342.77 179.67,342.13 185.50,343.60 C191.33,345.07 189.20,344.63 194.30,347.30 C199.40,349.97 195.73,347.97 200.80,351.60 C205.87,355.23 203.67,353.47 209.50,358.20 C215.33,362.93 212.47,360.70 218.30,365.80 C224.13,370.90 221.20,368.40 227.00,373.50 C232.80,378.60 230.60,375.67 235.70,381.10 C240.80,386.53 237.93,383.27 242.30,389.80 C246.67,396.33 244.80,393.43 248.80,400.70 C252.80,407.97 251.53,404.30 254.30,411.60 C257.07,418.90 256.07,416.07 257.10,422.60 C258.13,429.13 257.30,428.33 257.40,431.20" fill="none" stroke="#3a5aa8" stroke-width="2.4" stroke-linejoin="round"/><line x1="122.3" y1="402.3" x2="147.1" y2="402.3" stroke="#d83a3a" stroke-width="2.3"/><text x="148.6" y="405.9" font-size="10.5"><tspan font-style="italic">D</tspan> = 4.5 mm</text><line x1="122.3" y1="415.1" x2="147.1" y2="415.1" stroke="#c5d645" stroke-width="2.3"/><text x="148.6" y="418.7" font-size="10.5"><tspan font-style="italic">D</tspan> = 5.5 mm</text><line x1="122.3" y1="427.9" x2="147.1" y2="427.9" stroke="#5db57a" stroke-width="2.3"/><text x="148.6" y="431.5" font-size="10.5"><tspan font-style="italic">D</tspan> = 6.5 mm</text><line x1="122.3" y1="440.7" x2="147.1" y2="440.7" stroke="#3a5aa8" stroke-width="2.3"/><text x="148.6" y="444.3" font-size="10.5"><tspan font-style="italic">D</tspan> = 7.5 mm</text><text x="37.5" y="542.0" font-size="22" letter-spacing="0.6" fill="#111">(c)</text></g>
<g class="k" font-family="Liberation Serif" fill="#222"><line x1="431.5" y1="328.2" x2="431.5" y2="534.2" stroke="#555" stroke-width="1"/><path d="M431.5,328.2 h-3.5 M431.5,345.4 h-2.0 M431.5,362.5 h-3.5 M431.5,379.7 h-2.0 M431.5,396.9 h-3.5 M431.5,414.0 h-2.0 M431.5,431.2 h-3.5 M431.5,448.4 h-2.0 M431.5,465.5 h-3.5 M431.5,482.7 h-2.0 M431.5,499.9 h-3.5 M431.5,517.0 h-2.0 M431.5,534.2 h-3.5" stroke="#555" stroke-width="0.9" fill="none"/><text x="425.2" y="331.1" text-anchor="end" font-size="9.1">0</text><text x="425.2" y="365.4" text-anchor="end" font-size="9.1">-10</text><text x="425.2" y="399.8" text-anchor="end" font-size="9.1">-20</text><text x="425.2" y="434.1" text-anchor="end" font-size="9.1">-30</text><text x="425.2" y="468.4" text-anchor="end" font-size="9.1">-20</text><text x="425.2" y="502.8" text-anchor="end" font-size="9.1">-10</text><text x="425.2" y="537.1" text-anchor="end" font-size="9.1">0</text><text transform="translate(406.9,430.5) rotate(-90)" text-anchor="middle" font-size="10.6">Normalized far-field pattern (dB)</text><circle cx="554.6" cy="431.2" r="34.3" fill="none" stroke="#888" stroke-width="0.8" stroke-dasharray="1 2"/><circle cx="554.6" cy="431.2" r="68.7" fill="none" stroke="#888" stroke-width="0.8" stroke-dasharray="1 2"/><path d="M554.6,431.2 L554.6,328.2 M554.6,431.2 L503.1,342.0 M554.6,431.2 L465.4,379.7 M554.6,431.2 L451.6,431.2 M554.6,431.2 L465.4,482.7 M554.6,431.2 L503.1,520.4 M554.6,431.2 L554.6,534.2 M554.6,431.2 L606.1,520.4 M554.6,431.2 L643.8,482.7 M554.6,431.2 L657.6,431.2 M554.6,431.2 L643.8,379.7 M554.6,431.2 L606.1,342.0" stroke="#888" stroke-width="0.8" stroke-dasharray="1 2" fill="none"/><circle cx="554.6" cy="431.2" r="103.0" fill="none" stroke="#333" stroke-width="1"/><path d="M554.6,328.2 L554.6,331.7 M527.9,331.7 L528.5,333.6 M503.1,342.0 L504.9,345.0 M481.8,358.4 L483.2,359.8 M465.4,379.7 L468.4,381.4 M455.1,404.5 L457.0,405.1 M451.6,431.2 L455.1,431.2 M455.1,457.9 L457.0,457.3 M465.4,482.7 L468.4,480.9 M481.8,504.0 L483.2,502.6 M503.1,520.4 L504.9,517.4 M527.9,530.7 L528.5,528.8 M554.6,534.2 L554.6,530.7 M581.3,530.7 L580.7,528.8 M606.1,520.4 L604.4,517.4 M627.4,504.0 L626.0,502.6 M643.8,482.7 L640.8,481.0 M654.1,457.9 L652.2,457.3 M657.6,431.2 L654.1,431.2 M654.1,404.5 L652.2,405.1 M643.8,379.7 L640.8,381.4 M627.4,358.4 L626.0,359.8 M606.1,342.0 L604.4,345.0 M581.3,331.7 L580.7,333.6" stroke="#333" stroke-width="0.9" fill="none"/><text x="554.0" y="322.1" text-anchor="middle" font-size="8.5">0</text><text x="496.2" y="336.0" text-anchor="middle" font-size="8.5">30</text><text x="614.0" y="336.1" text-anchor="middle" font-size="8.5">-30</text><text x="457.5" y="375.5" text-anchor="middle" font-size="8.5">60</text><text x="653.3" y="375.6" text-anchor="middle" font-size="8.5">-60</text><text x="442.4" y="434.1" text-anchor="middle" font-size="8.5">90</text><text x="667.3" y="434.1" text-anchor="middle" font-size="8.5">-90</text><text x="454.9" y="493.0" text-anchor="middle" font-size="8.5">120</text><text x="655.6" y="492.8" text-anchor="middle" font-size="8.5">-120</text><text x="494.0" y="532.0" text-anchor="middle" font-size="8.5">150</text><text x="615.7" y="532.2" text-anchor="middle" font-size="8.5">-150</text><text x="554.7" y="546.4" text-anchor="middle" font-size="8.5">-180</text><path d="M454.70,431.20 C454.04,426.82 452.50,427.67 452.73,418.07 C452.95,408.48 452.99,412.08 455.37,402.43 C457.74,392.77 456.52,397.24 459.85,389.11 C463.17,380.98 460.56,385.79 465.34,378.03 C470.12,370.27 467.32,373.01 474.18,365.83 C481.04,358.64 477.86,361.12 485.92,356.47 C493.99,351.82 490.63,354.77 498.37,351.87 C506.12,348.98 501.27,350.21 509.16,347.78 C517.05,345.35 512.77,346.72 522.03,344.58 C531.30,342.45 527.69,342.80 536.95,341.37 C546.20,339.94 541.13,340.42 549.80,340.30 C558.46,340.17 554.27,340.27 562.93,340.99 C571.60,341.71 567.22,340.89 575.78,342.45 C584.35,344.01 580.78,343.16 588.63,345.67 C596.48,348.18 592.09,346.57 599.33,349.98 C606.57,353.38 603.27,352.34 610.36,355.89 C617.46,359.45 614.05,356.64 620.62,360.63 C627.18,364.62 623.96,362.13 630.06,367.88 C636.16,373.62 633.76,370.84 638.92,377.88 C644.08,384.92 641.84,381.58 645.54,388.99 C649.25,396.40 647.42,392.69 650.03,400.10 C652.65,407.51 651.90,403.06 653.40,411.22 C654.90,419.37 654.02,417.91 654.54,424.57 C655.06,431.23 654.81,426.68 654.95,431.20 C655.08,435.72 655.08,434.53 654.95,438.13 C654.81,441.74 655.42,437.01 654.54,442.01 C653.66,447.01 654.17,445.72 652.31,453.13 C650.45,460.54 651.20,456.84 648.96,464.25 C646.71,471.66 648.17,468.67 645.58,475.36 C642.99,482.06 644.89,478.38 641.19,484.34 C637.49,490.29 639.66,487.66 634.47,493.22 C629.28,498.77 632.45,496.01 625.62,501.00 C618.79,505.98 621.99,504.75 613.97,508.18 C605.96,511.60 610.01,508.86 601.56,511.28 C593.11,513.69 597.22,512.97 588.63,515.43 C580.03,517.89 584.34,516.86 575.78,518.65 C567.21,520.44 569.99,519.96 562.93,520.81 C555.87,521.66 560.38,521.20 554.60,521.20 C548.82,521.20 552.87,521.46 545.58,520.81 C538.29,520.16 541.30,520.68 532.73,519.25 C524.17,517.83 528.79,518.29 519.88,516.53 C510.97,514.77 513.86,515.81 506.00,513.98 C498.13,512.14 503.22,515.38 496.28,511.03 C489.33,506.69 492.59,507.65 485.16,500.95 C477.72,494.25 480.65,497.61 473.97,490.93 C467.30,484.26 469.91,487.59 465.14,480.92 C460.36,474.26 462.97,477.97 459.65,470.93 C456.33,463.90 457.47,468.00 455.17,459.83 C452.88,451.65 452.91,455.96 452.75,446.42 C452.59,436.87 454.05,436.27 454.70,431.20" fill="none" stroke="#d83a3a" stroke-width="1.7" stroke-linejoin="round"/><path d="M455.70,431.20 C455.69,426.95 454.61,427.70 455.68,418.46 C456.76,409.21 456.41,412.74 458.92,403.46 C461.44,394.18 460.03,398.46 463.23,390.61 C466.43,382.77 463.91,387.41 468.52,379.92 C473.13,372.44 470.61,375.28 477.05,368.16 C483.50,361.04 480.69,363.92 487.85,358.57 C495.02,353.23 491.42,355.67 498.56,352.13 C505.69,348.59 501.41,350.41 509.26,347.96 C517.11,345.50 512.86,346.90 522.10,344.77 C531.35,342.64 527.75,342.99 536.99,341.56 C546.22,340.14 541.16,340.62 549.81,340.50 C558.45,340.37 554.27,340.48 562.92,341.19 C571.56,341.91 567.19,341.09 575.74,342.65 C584.28,344.20 580.73,343.36 588.56,345.86 C596.39,348.36 592.12,346.60 599.24,350.15 C606.35,353.70 603.51,352.24 609.91,356.51 C616.31,360.78 612.71,358.33 618.43,362.96 C624.15,367.59 621.34,364.72 627.07,370.39 C632.79,376.06 630.64,373.22 635.61,379.97 C640.58,386.72 638.42,383.53 641.99,390.64 C645.55,397.76 643.78,394.20 646.30,401.32 C648.82,408.44 648.10,404.16 649.54,412.00 C650.98,419.83 650.12,418.43 650.60,424.83 C651.09,431.23 650.87,426.86 651.00,431.20 C651.13,435.54 651.13,434.40 651.00,437.86 C650.88,441.32 651.46,436.78 650.61,441.58 C649.76,446.38 650.25,445.14 648.45,452.26 C646.65,459.38 647.36,455.82 645.21,462.94 C643.06,470.06 644.47,467.19 642.00,473.63 C639.53,480.06 641.36,476.54 637.80,482.25 C634.24,487.97 636.33,485.46 631.32,490.77 C626.31,496.09 629.19,493.22 622.77,498.20 C616.36,503.18 619.21,501.46 612.08,505.72 C604.95,509.98 609.23,507.80 601.39,510.97 C593.55,514.15 597.10,512.75 588.55,515.25 C580.00,517.74 584.27,516.67 575.73,518.46 C567.18,520.24 569.96,519.76 562.91,520.61 C555.87,521.46 560.37,521.00 554.60,521.00 C548.83,521.00 552.87,521.26 545.60,520.61 C538.33,519.96 541.33,520.48 532.78,519.06 C524.23,517.64 528.51,518.68 519.95,516.35 C511.40,514.02 514.24,514.90 507.11,512.08 C499.99,509.25 504.98,512.52 498.58,507.89 C492.18,503.25 495.07,504.61 487.91,498.18 C480.75,491.76 483.56,494.99 477.11,488.61 C470.65,482.22 473.17,485.42 468.55,479.03 C463.93,472.63 466.45,476.19 463.24,469.43 C460.04,462.67 461.28,466.59 458.92,458.75 C456.57,450.91 457.25,455.09 456.18,445.90 C455.10,436.72 455.86,436.10 455.70,431.20" fill="none" stroke="#c5d645" stroke-width="1.7" stroke-linejoin="round"/><path d="M452.20,431.20 C452.20,426.80 450.78,427.49 452.21,418.01 C453.64,408.53 453.04,411.98 456.48,402.75 C459.93,393.52 458.68,398.00 462.55,390.31 C466.42,382.62 463.38,387.16 468.09,379.67 C472.79,372.18 470.19,375.00 476.66,367.85 C483.14,360.69 480.31,363.58 487.52,358.20 C494.72,352.83 491.10,355.29 498.27,351.72 C505.43,348.16 501.13,349.99 509.02,347.52 C516.90,345.04 512.64,346.45 521.93,344.30 C531.22,342.16 527.61,342.51 536.89,341.07 C546.17,339.64 541.09,340.12 549.78,340.00 C558.47,339.87 554.27,339.97 562.96,340.69 C571.65,341.41 567.26,340.59 575.85,342.16 C584.45,343.73 580.87,342.88 588.75,345.39 C596.62,347.91 592.32,346.14 599.48,349.71 C606.63,353.28 603.77,351.81 610.21,356.11 C616.64,360.40 613.03,357.94 618.78,362.60 C624.52,367.25 621.70,364.36 627.45,370.06 C633.20,375.77 631.04,372.91 636.03,379.70 C641.03,386.49 638.55,383.38 642.44,390.43 C646.33,397.48 644.32,393.88 647.71,400.86 C651.11,407.84 650.49,403.46 652.62,411.37 C654.75,419.29 653.47,417.99 654.10,424.60 C654.72,431.21 654.37,426.70 654.50,431.20 C654.63,435.70 654.63,434.52 654.50,438.10 C654.36,441.69 655.18,437.03 654.09,441.96 C653.00,446.89 653.81,445.76 651.22,452.88 C648.63,460.01 649.24,456.34 646.32,463.33 C643.40,470.31 645.15,467.45 642.45,473.84 C639.75,480.24 641.80,476.77 638.22,482.52 C634.64,488.26 636.75,485.74 631.72,491.08 C626.68,496.42 629.57,493.54 623.13,498.55 C616.69,503.56 619.55,501.83 612.38,506.11 C605.22,510.40 609.52,508.21 601.64,511.41 C593.76,514.61 597.34,513.20 588.74,515.71 C580.14,518.22 584.44,517.14 575.85,518.94 C567.25,520.74 570.04,520.25 562.96,521.11 C555.88,521.96 560.40,521.50 554.60,521.50 C548.80,521.50 552.86,521.76 545.55,521.11 C538.24,520.46 541.26,520.98 532.66,519.54 C524.07,518.11 528.37,519.16 519.77,516.81 C511.16,514.46 514.02,515.35 506.86,512.51 C499.70,509.67 504.72,512.95 498.28,508.29 C491.85,503.63 494.75,505.00 487.56,498.54 C480.37,492.08 483.19,495.33 476.71,488.91 C470.22,482.49 472.91,485.63 468.11,479.27 C463.31,472.91 466.18,476.43 462.30,469.83 C458.41,463.22 459.65,467.26 456.46,459.46 C453.27,451.65 454.14,455.84 452.72,446.42 C451.30,437.00 452.37,436.27 452.20,431.20" fill="none" stroke="#5db57a" stroke-width="1.7" stroke-linejoin="round"/><path d="M453.70,431.20 C453.70,426.87 452.60,427.63 453.70,418.20 C454.80,408.77 454.43,412.37 457.00,402.90 C459.57,393.43 458.13,397.80 461.40,389.80 C464.67,381.80 462.10,386.53 466.80,378.90 C471.50,371.27 468.93,374.17 475.50,366.90 C482.07,359.63 479.20,362.57 486.50,357.10 C493.80,351.63 490.13,354.13 497.40,350.50 C504.67,346.87 500.30,348.73 508.30,346.20 C516.30,343.67 511.97,345.10 521.40,342.90 C530.83,340.70 527.17,341.07 536.60,339.60 C546.03,338.13 540.87,338.63 549.70,338.50 C558.53,338.37 554.27,338.47 563.10,339.20 C571.93,339.93 567.47,339.10 576.20,340.70 C584.93,342.30 581.30,341.43 589.30,344.00 C597.30,346.57 592.93,344.77 600.20,348.40 C607.47,352.03 604.57,350.53 611.10,354.90 C617.63,359.27 613.97,356.77 619.80,361.50 C625.63,366.23 622.77,363.30 628.60,369.10 C634.43,374.90 632.23,372.00 637.30,378.90 C642.37,385.80 640.17,382.53 643.80,389.80 C647.43,397.07 645.63,393.43 648.20,400.70 C650.77,407.97 650.03,403.60 651.50,411.60 C652.97,419.60 652.10,418.17 652.60,424.70 C653.10,431.23 652.87,426.77 653.00,431.20 C653.13,435.63 653.13,434.47 653.00,438.00 C652.87,441.53 653.47,436.90 652.60,441.80 C651.73,446.70 652.23,445.43 650.40,452.70 C648.57,459.97 649.30,456.33 647.10,463.60 C644.90,470.87 646.33,467.93 643.80,474.50 C641.27,481.07 643.13,477.47 639.50,483.30 C635.87,489.13 638.00,486.57 632.90,492.00 C627.80,497.43 630.73,494.50 624.20,499.60 C617.67,504.70 620.57,502.93 613.30,507.30 C606.03,511.67 610.40,509.43 602.40,512.70 C594.40,515.97 598.03,514.53 589.30,517.10 C580.57,519.67 584.93,518.57 576.20,520.40 C567.47,522.23 570.30,521.73 563.10,522.60 C555.90,523.47 560.50,523.00 554.60,523.00 C548.70,523.00 552.83,523.27 545.40,522.60 C537.97,521.93 541.03,522.47 532.30,521.00 C523.57,519.53 527.93,520.60 519.20,518.20 C510.47,515.80 513.37,516.70 506.10,513.80 C498.83,510.90 503.93,514.23 497.40,509.50 C490.87,504.77 493.80,506.17 486.50,499.60 C479.20,493.03 482.07,496.33 475.50,489.80 C468.93,483.27 471.50,486.53 466.80,480.00 C462.10,473.47 464.67,477.10 461.40,470.20 C458.13,463.30 459.40,467.30 457.00,459.30 C454.60,451.30 455.30,455.57 454.20,446.20 C453.10,436.83 453.87,436.20 453.70,431.20" fill="none" stroke="#3a5aa8" stroke-width="2.4" stroke-linejoin="round"/><line x1="517.8" y1="402.3" x2="542.6" y2="402.3" stroke="#d83a3a" stroke-width="2.3"/><text x="544.1" y="405.9" font-size="10.5"><tspan font-style="italic">D</tspan> = 4.5 mm</text><line x1="517.8" y1="415.1" x2="542.6" y2="415.1" stroke="#c5d645" stroke-width="2.3"/><text x="544.1" y="418.7" font-size="10.5"><tspan font-style="italic">D</tspan> = 5.5 mm</text><line x1="517.8" y1="427.9" x2="542.6" y2="427.9" stroke="#5db57a" stroke-width="2.3"/><text x="544.1" y="431.5" font-size="10.5"><tspan font-style="italic">D</tspan> = 6.5 mm</text><line x1="517.8" y1="440.7" x2="542.6" y2="440.7" stroke="#3a5aa8" stroke-width="2.3"/><text x="544.1" y="444.3" font-size="10.5"><tspan font-style="italic">D</tspan> = 7.5 mm</text><text x="445.5" y="542.0" font-size="22" letter-spacing="0.6" fill="#111">(d)</text></g></svg>
</body></html>
